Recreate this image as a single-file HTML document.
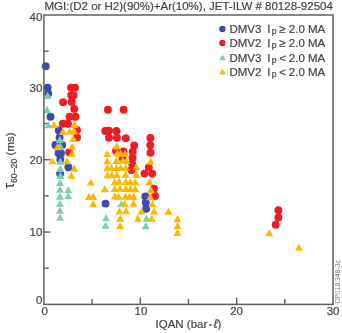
<!DOCTYPE html>
<html><head><meta charset="utf-8"><style>
html,body{margin:0;padding:0;background:#fff;}
body{width:342px;height:333px;overflow:hidden;position:relative;filter:blur(0.45px);font-family:"Liberation Sans",sans-serif;color:#444;}
.t{position:absolute;white-space:nowrap;line-height:1;-webkit-text-stroke:0.2px #444;}
svg{position:absolute;left:0;top:0;}
.yl{position:absolute;left:0;top:0;white-space:nowrap;line-height:1;font-size:11.5px;transform-origin:0 0;}
</style></head><body>
<svg width="342" height="333" viewBox="0 0 342 333">
<line x1="92.08" y1="304.4" x2="92.08" y2="298.9" stroke="#606060" stroke-width="1.4"/><line x1="140.27" y1="304.4" x2="140.27" y2="297.59999999999997" stroke="#606060" stroke-width="1.4"/><line x1="188.45" y1="304.4" x2="188.45" y2="298.9" stroke="#606060" stroke-width="1.4"/><line x1="236.63" y1="304.4" x2="236.63" y2="297.59999999999997" stroke="#606060" stroke-width="1.4"/><line x1="284.82" y1="304.4" x2="284.82" y2="298.9" stroke="#606060" stroke-width="1.4"/><line x1="43.9" y1="268.22" x2="48.699999999999996" y2="268.22" stroke="#606060" stroke-width="1.4"/><line x1="43.9" y1="232.05" x2="50.5" y2="232.05" stroke="#606060" stroke-width="1.4"/><line x1="43.9" y1="195.87" x2="48.699999999999996" y2="195.87" stroke="#606060" stroke-width="1.4"/><line x1="43.9" y1="159.70" x2="50.5" y2="159.70" stroke="#606060" stroke-width="1.4"/><line x1="43.9" y1="123.53" x2="48.699999999999996" y2="123.53" stroke="#606060" stroke-width="1.4"/><line x1="43.9" y1="87.35" x2="50.5" y2="87.35" stroke="#606060" stroke-width="1.4"/><line x1="43.9" y1="51.17" x2="48.699999999999996" y2="51.17" stroke="#606060" stroke-width="1.4"/>
<circle cx="45.8" cy="66.3" r="3.95" fill="#3c4ab4"/><circle cx="47.6" cy="87.6" r="3.95" fill="#3c4ab4"/><circle cx="48.2" cy="93.5" r="3.95" fill="#3c4ab4"/><circle cx="50.5" cy="116.7" r="3.95" fill="#3c4ab4"/><circle cx="58.8" cy="130.5" r="3.95" fill="#3c4ab4"/><circle cx="59.6" cy="137.4" r="3.95" fill="#3c4ab4"/><circle cx="55.4" cy="145" r="3.95" fill="#3c4ab4"/><circle cx="62.2" cy="145" r="3.95" fill="#3c4ab4"/><circle cx="58.6" cy="153.2" r="3.95" fill="#3c4ab4"/><circle cx="61" cy="153.2" r="3.95" fill="#3c4ab4"/><circle cx="60.3" cy="159.4" r="3.95" fill="#3c4ab4"/><circle cx="68.4" cy="167.2" r="3.95" fill="#3c4ab4"/><circle cx="60.1" cy="173.6" r="3.95" fill="#3c4ab4"/><circle cx="105.5" cy="203.6" r="3.95" fill="#3c4ab4"/><circle cx="145.4" cy="196.4" r="3.95" fill="#3c4ab4"/><circle cx="145.8" cy="202.5" r="3.95" fill="#3c4ab4"/><circle cx="146.2" cy="208.8" r="3.95" fill="#3c4ab4"/><circle cx="71" cy="87.6" r="3.95" fill="#ee1c24"/><circle cx="75" cy="87.6" r="3.95" fill="#ee1c24"/><circle cx="71.2" cy="95.2" r="3.95" fill="#ee1c24"/><circle cx="73.6" cy="95.2" r="3.95" fill="#ee1c24"/><circle cx="63.1" cy="102.2" r="3.95" fill="#ee1c24"/><circle cx="71.7" cy="102" r="3.95" fill="#ee1c24"/><circle cx="74.2" cy="108.9" r="3.95" fill="#ee1c24"/><circle cx="69.6" cy="116.7" r="3.95" fill="#ee1c24"/><circle cx="75.4" cy="116.7" r="3.95" fill="#ee1c24"/><circle cx="62.8" cy="123.7" r="3.95" fill="#ee1c24"/><circle cx="68" cy="123.7" r="3.95" fill="#ee1c24"/><circle cx="77" cy="130" r="3.95" fill="#ee1c24"/><circle cx="77" cy="137.4" r="3.95" fill="#ee1c24"/><circle cx="69.2" cy="152.2" r="3.95" fill="#ee1c24"/><circle cx="107.9" cy="109.7" r="3.95" fill="#ee1c24"/><circle cx="123.6" cy="109.7" r="3.95" fill="#ee1c24"/><circle cx="105.2" cy="131" r="3.95" fill="#ee1c24"/><circle cx="109" cy="130.6" r="3.95" fill="#ee1c24"/><circle cx="116.5" cy="131" r="3.95" fill="#ee1c24"/><circle cx="109" cy="137.8" r="3.95" fill="#ee1c24"/><circle cx="116.9" cy="137.8" r="3.95" fill="#ee1c24"/><circle cx="125.8" cy="138.2" r="3.95" fill="#ee1c24"/><circle cx="134.2" cy="145.4" r="3.95" fill="#ee1c24"/><circle cx="132.6" cy="151.8" r="3.95" fill="#ee1c24"/><circle cx="132.6" cy="158" r="3.95" fill="#ee1c24"/><circle cx="132.2" cy="164" r="3.95" fill="#ee1c24"/><circle cx="131.5" cy="170" r="3.95" fill="#ee1c24"/><circle cx="116" cy="150.8" r="3.95" fill="#ee1c24"/><circle cx="123.5" cy="151.5" r="3.95" fill="#ee1c24"/><circle cx="122.5" cy="158" r="3.95" fill="#ee1c24"/><circle cx="150.4" cy="138" r="3.95" fill="#ee1c24"/><circle cx="150.3" cy="145.2" r="3.95" fill="#ee1c24"/><circle cx="150.5" cy="152.8" r="3.95" fill="#ee1c24"/><circle cx="148.8" cy="167.4" r="3.95" fill="#ee1c24"/><circle cx="144.6" cy="173.6" r="3.95" fill="#ee1c24"/><circle cx="152.2" cy="173.6" r="3.95" fill="#ee1c24"/><circle cx="154" cy="188.6" r="3.95" fill="#ee1c24"/><circle cx="155" cy="196" r="3.95" fill="#ee1c24"/><circle cx="278.4" cy="210.3" r="3.95" fill="#ee1c24"/><circle cx="278.4" cy="217.5" r="3.95" fill="#ee1c24"/><circle cx="275.7" cy="224.7" r="3.95" fill="#ee1c24"/><path d="M47.60 91.85L51.60 98.95L43.60 98.95Z" fill="#7dcdb0"/><path d="M47.00 106.05L51.00 113.15L43.00 113.15Z" fill="#7dcdb0"/><path d="M48.40 121.05L52.40 128.15L44.40 128.15Z" fill="#7dcdb0"/><path d="M59.90 135.95L63.90 143.05L55.90 143.05Z" fill="#7dcdb0"/><path d="M60.20 142.25L64.20 149.35L56.20 149.35Z" fill="#7dcdb0"/><path d="M60.40 157.75L64.40 164.85L56.40 164.85Z" fill="#7dcdb0"/><path d="M60.40 164.85L64.40 171.95L56.40 171.95Z" fill="#7dcdb0"/><path d="M60.40 171.85L64.40 178.95L56.40 178.95Z" fill="#7dcdb0"/><path d="M59.90 178.95L63.90 186.05L55.90 186.05Z" fill="#7dcdb0"/><path d="M59.90 185.75L63.90 192.85L55.90 192.85Z" fill="#7dcdb0"/><path d="M59.90 192.65L63.90 199.75L55.90 199.75Z" fill="#7dcdb0"/><path d="M59.90 199.65L63.90 206.75L55.90 206.75Z" fill="#7dcdb0"/><path d="M59.90 206.65L63.90 213.75L55.90 213.75Z" fill="#7dcdb0"/><path d="M60.10 213.75L64.10 220.85L56.10 220.85Z" fill="#7dcdb0"/><path d="M68.20 186.05L72.20 193.15L64.20 193.15Z" fill="#7dcdb0"/><path d="M68.20 192.25L72.20 199.35L64.20 199.35Z" fill="#7dcdb0"/><path d="M106.00 214.25L110.00 221.35L102.00 221.35Z" fill="#7dcdb0"/><path d="M105.50 221.75L109.50 228.85L101.50 228.85Z" fill="#7dcdb0"/><path d="M121.20 200.05L125.20 207.15L117.20 207.15Z" fill="#7dcdb0"/><path d="M146.40 214.65L150.40 221.75L142.40 221.75Z" fill="#7dcdb0"/><path d="M145.80 222.25L149.80 229.35L141.80 229.35Z" fill="#7dcdb0"/><path d="M54.00 120.85L58.00 127.95L50.00 127.95Z" fill="#fdb900"/><path d="M74.60 120.85L78.60 127.95L70.60 127.95Z" fill="#fdb900"/><path d="M63.00 127.85L67.00 134.95L59.00 134.95Z" fill="#fdb900"/><path d="M69.80 127.35L73.80 134.45L65.80 134.45Z" fill="#fdb900"/><path d="M74.00 127.05L78.00 134.15L70.00 134.15Z" fill="#fdb900"/><path d="M73.30 134.85L77.30 141.95L69.30 141.95Z" fill="#fdb900"/><path d="M57.60 143.05L61.60 150.15L53.60 150.15Z" fill="#fdb900"/><path d="M72.20 142.65L76.20 149.75L68.20 149.75Z" fill="#fdb900"/><path d="M71.80 149.85L75.80 156.95L67.80 156.95Z" fill="#fdb900"/><path d="M52.20 157.15L56.20 164.25L48.20 164.25Z" fill="#fdb900"/><path d="M67.00 157.25L71.00 164.35L63.00 164.35Z" fill="#fdb900"/><path d="M74.20 164.65L78.20 171.75L70.20 171.75Z" fill="#fdb900"/><path d="M71.30 171.65L75.30 178.75L67.30 178.75Z" fill="#fdb900"/><path d="M90.80 178.45L94.80 185.55L86.80 185.55Z" fill="#fdb900"/><path d="M89.00 192.85L93.00 199.95L85.00 199.95Z" fill="#fdb900"/><path d="M93.20 192.85L97.20 199.95L89.20 199.95Z" fill="#fdb900"/><path d="M93.20 200.05L97.20 207.15L89.20 207.15Z" fill="#fdb900"/><path d="M116.70 142.45L120.70 149.55L112.70 149.55Z" fill="#fdb900"/><path d="M107.20 149.95L111.20 157.05L103.20 157.05Z" fill="#fdb900"/><path d="M117.20 149.65L121.20 156.75L113.20 156.75Z" fill="#fdb900"/><path d="M120.50 149.45L124.50 156.55L116.50 156.55Z" fill="#fdb900"/><path d="M125.20 149.65L129.20 156.75L121.20 156.75Z" fill="#fdb900"/><path d="M107.20 157.15L111.20 164.25L103.20 164.25Z" fill="#fdb900"/><path d="M116.40 156.95L120.40 164.05L112.40 164.05Z" fill="#fdb900"/><path d="M122.70 156.45L126.70 163.55L118.70 163.55Z" fill="#fdb900"/><path d="M126.40 156.95L130.40 164.05L122.40 164.05Z" fill="#fdb900"/><path d="M107.20 164.05L111.20 171.15L103.20 171.15Z" fill="#fdb900"/><path d="M111.60 163.95L115.60 171.05L107.60 171.05Z" fill="#fdb900"/><path d="M116.40 163.85L120.40 170.95L112.40 170.95Z" fill="#fdb900"/><path d="M120.80 163.85L124.80 170.95L116.80 170.95Z" fill="#fdb900"/><path d="M125.80 163.65L129.80 170.75L121.80 170.75Z" fill="#fdb900"/><path d="M136.20 163.05L140.20 170.15L132.20 170.15Z" fill="#fdb900"/><path d="M107.40 171.05L111.40 178.15L103.40 178.15Z" fill="#fdb900"/><path d="M112.00 171.05L116.00 178.15L108.00 178.15Z" fill="#fdb900"/><path d="M116.90 170.85L120.90 177.95L112.90 177.95Z" fill="#fdb900"/><path d="M125.60 170.85L129.60 177.95L121.60 177.95Z" fill="#fdb900"/><path d="M136.40 170.85L140.40 177.95L132.40 177.95Z" fill="#fdb900"/><path d="M114.60 178.05L118.60 185.15L110.60 185.15Z" fill="#fdb900"/><path d="M118.90 177.65L122.90 184.75L114.90 184.75Z" fill="#fdb900"/><path d="M125.80 177.85L129.80 184.95L121.80 184.95Z" fill="#fdb900"/><path d="M130.50 178.05L134.50 185.15L126.50 185.15Z" fill="#fdb900"/><path d="M135.20 178.05L139.20 185.15L131.20 185.15Z" fill="#fdb900"/><path d="M104.80 185.05L108.80 192.15L100.80 192.15Z" fill="#fdb900"/><path d="M114.60 184.95L118.60 192.05L110.60 192.05Z" fill="#fdb900"/><path d="M120.00 184.65L124.00 191.75L116.00 191.75Z" fill="#fdb900"/><path d="M125.80 184.95L129.80 192.05L121.80 192.05Z" fill="#fdb900"/><path d="M130.40 185.05L134.40 192.15L126.40 192.15Z" fill="#fdb900"/><path d="M135.20 185.25L139.20 192.35L131.20 192.35Z" fill="#fdb900"/><path d="M114.80 192.45L118.80 199.55L110.80 199.55Z" fill="#fdb900"/><path d="M118.40 192.65L122.40 199.75L114.40 199.75Z" fill="#fdb900"/><path d="M125.40 192.65L129.40 199.75L121.40 199.75Z" fill="#fdb900"/><path d="M129.50 192.65L133.50 199.75L125.50 199.75Z" fill="#fdb900"/><path d="M133.60 192.85L137.60 199.95L129.60 199.95Z" fill="#fdb900"/><path d="M124.60 199.65L128.60 206.75L120.60 206.75Z" fill="#fdb900"/><path d="M133.40 199.65L137.40 206.75L129.40 206.75Z" fill="#fdb900"/><path d="M119.50 207.45L123.50 214.55L115.50 214.55Z" fill="#fdb900"/><path d="M126.10 207.05L130.10 214.15L122.10 214.15Z" fill="#fdb900"/><path d="M141.40 207.45L145.40 214.55L137.40 214.55Z" fill="#fdb900"/><path d="M120.20 214.75L124.20 221.85L116.20 221.85Z" fill="#fdb900"/><path d="M137.80 214.75L141.80 221.85L133.80 221.85Z" fill="#fdb900"/><path d="M120.20 222.05L124.20 229.15L116.20 229.15Z" fill="#fdb900"/><path d="M150.80 157.75L154.80 164.85L146.80 164.85Z" fill="#fdb900"/><path d="M149.40 178.05L153.40 185.15L145.40 185.15Z" fill="#fdb900"/><path d="M150.80 186.05L154.80 193.15L146.80 193.15Z" fill="#fdb900"/><path d="M150.20 193.05L154.20 200.15L146.20 200.15Z" fill="#fdb900"/><path d="M152.40 200.05L156.40 207.15L148.40 207.15Z" fill="#fdb900"/><path d="M154.00 207.45L158.00 214.55L150.00 214.55Z" fill="#fdb900"/><path d="M151.70 214.75L155.70 221.85L147.70 221.85Z" fill="#fdb900"/><path d="M168.40 207.65L172.40 214.75L164.40 214.75Z" fill="#fdb900"/><path d="M177.40 215.05L181.40 222.15L173.40 222.15Z" fill="#fdb900"/><path d="M177.40 222.25L181.40 229.35L173.40 229.35Z" fill="#fdb900"/><path d="M177.40 228.85L181.40 235.95L173.40 235.95Z" fill="#fdb900"/><path d="M269.40 229.25L273.40 236.35L265.40 236.35Z" fill="#fdb900"/><path d="M299.00 243.65L303.00 250.75L295.00 250.75Z" fill="#fdb900"/>
<rect x="43.9" y="15.0" width="289.10" height="289.40" fill="none" stroke="#606060" stroke-width="1.5"/>
<circle cx="222.4" cy="28.9" r="3.2" fill="#3c4ab4"/><circle cx="222.4" cy="43.0" r="3.2" fill="#ee1c24"/><path d="M222.50 54.30L225.80 60.30L219.20 60.30Z" fill="#7dcdb0"/><path d="M222.50 68.40L225.80 74.40L219.20 74.40Z" fill="#fdb900"/>
<text transform="translate(14.4,188.6) rotate(-90)" font-family="Liberation Sans" font-size="11.5" fill="#444" stroke="#444" stroke-width="0.2"><tspan font-size="14">&#964;</tspan><tspan font-size="8.8" dy="2.3">60&#8211;20</tspan><tspan dy="-2.3" xml:space="preserve"> (ms)</tspan></text>
</svg>
<div class="t" style="left:44.5px;top:0.6px;font-size:11.5px;">MGI:(D2 or H2)(90%)+Ar(10%), JET-ILW # 80128-92504</div>
<div class="t" style="left:229.4px;top:24.3px;font-size:11.5px;">DMV3</div><div class="t" style="left:267.2px;top:24.3px;font-size:11.5px;">I</div><div class="t" style="left:271.8px;top:27.3px;font-size:8.6px;">p</div><div class="t" style="left:279.3px;top:24.3px;font-size:11.5px;">&#8805;</div><div class="t" style="left:288.8px;top:24.3px;font-size:11.5px;">2.0 MA</div><div class="t" style="left:229.4px;top:38.4px;font-size:11.5px;">DMV2</div><div class="t" style="left:267.2px;top:38.4px;font-size:11.5px;">I</div><div class="t" style="left:271.8px;top:41.4px;font-size:8.6px;">p</div><div class="t" style="left:279.3px;top:38.4px;font-size:11.5px;">&#8805;</div><div class="t" style="left:288.8px;top:38.4px;font-size:11.5px;">2.0 MA</div><div class="t" style="left:229.4px;top:52.9px;font-size:11.5px;">DMV3</div><div class="t" style="left:267.2px;top:52.9px;font-size:11.5px;">I</div><div class="t" style="left:271.8px;top:55.9px;font-size:8.6px;">p</div><div class="t" style="left:279.3px;top:52.9px;font-size:11.5px;">&lt;</div><div class="t" style="left:288.8px;top:52.9px;font-size:11.5px;">2.0 MA</div><div class="t" style="left:229.4px;top:66.8px;font-size:11.5px;">DMV2</div><div class="t" style="left:267.2px;top:66.8px;font-size:11.5px;">I</div><div class="t" style="left:271.8px;top:69.8px;font-size:8.6px;">p</div><div class="t" style="left:279.3px;top:66.8px;font-size:11.5px;">&lt;</div><div class="t" style="left:288.8px;top:66.8px;font-size:11.5px;">2.0 MA</div>
<div class="t" style="left:29.5px;top:11.5px;font-size:11.5px;">40</div>
<div class="t" style="left:29.5px;top:82.7px;font-size:11.5px;">30</div>
<div class="t" style="left:29.5px;top:155.0px;font-size:11.5px;">20</div>
<div class="t" style="left:29.5px;top:226.9px;font-size:11.5px;">10</div>
<div class="t" style="left:36px;top:295px;font-size:11.5px;">0</div>
<div class="t" style="left:41.5px;top:306px;font-size:11.5px;">0</div>
<div class="t" style="left:134.5px;top:306px;font-size:11.5px;">10</div>
<div class="t" style="left:230.2px;top:306px;font-size:11.5px;">20</div>
<div class="t" style="left:326.7px;top:306px;font-size:11.5px;">30</div>
<div class="t" style="left:155.5px;top:319px;font-size:11.5px;">IQAN (bar<span style="font-size:7px;position:relative;top:-1.2px;margin:0 1.8px 0 1.9px;line-height:0;">&#8226;</span><i style="font-size:13px;line-height:0;">&#8467;</i>)</div>

<div class="yl" style="transform:translate(334.6px,303.6px) rotate(-90deg);font-size:6.8px;color:#7a7a7a;">CP018.348-3c</div>
</body></html>
